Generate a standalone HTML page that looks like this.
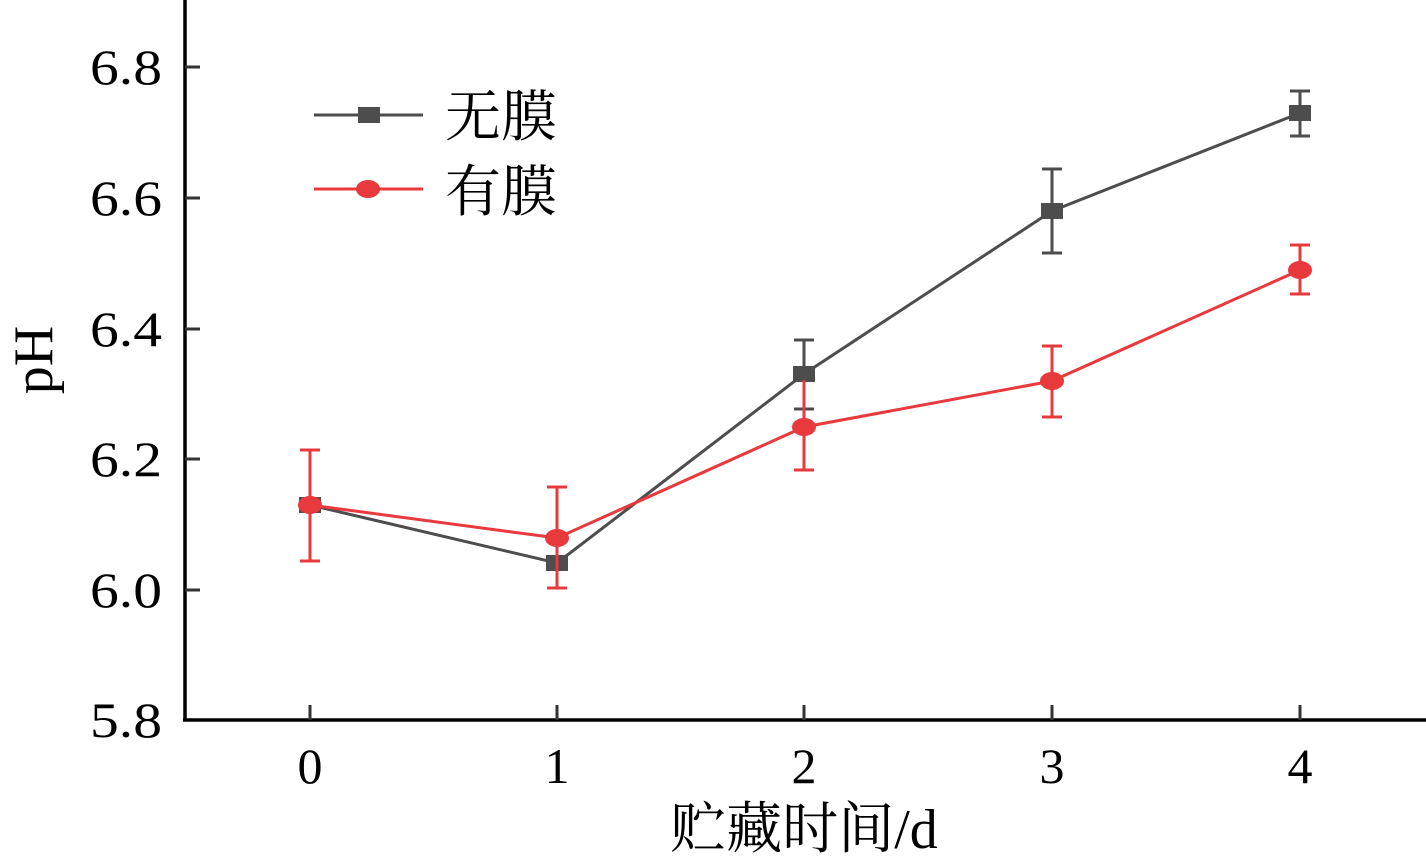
<!DOCTYPE html>
<html><head><meta charset="utf-8"><style>html,body{margin:0;padding:0;background:#fff}svg{display:block}</style></head><body>
<svg width="1426" height="857" xmlns="http://www.w3.org/2000/svg" font-family="'Liberation Serif','Noto Serif CJK SC',serif">
<g stroke="#000" stroke-width="3.5" fill="none">
<line x1="185" y1="0" x2="185" y2="721"/>
<line x1="183" y1="720" x2="1426" y2="720"/>
</g>
<g stroke="#333" stroke-width="3">
<line x1="185" y1="67" x2="200" y2="67"/><line x1="185" y1="198" x2="200" y2="198"/><line x1="185" y1="329" x2="200" y2="329"/><line x1="185" y1="459" x2="200" y2="459"/><line x1="185" y1="590" x2="200" y2="590"/>
<line x1="310" y1="705" x2="310" y2="720"/><line x1="557" y1="705" x2="557" y2="720"/><line x1="804" y1="705" x2="804" y2="720"/><line x1="1052" y1="705" x2="1052" y2="720"/><line x1="1300" y1="705" x2="1300" y2="720"/>
</g>
<g font-size="50" text-anchor="end" fill="#000">
<text x="162" y="84" textLength="72" lengthAdjust="spacingAndGlyphs">6.8</text><text x="162" y="215" textLength="72" lengthAdjust="spacingAndGlyphs">6.6</text><text x="162" y="346" textLength="72" lengthAdjust="spacingAndGlyphs">6.4</text><text x="162" y="476" textLength="72" lengthAdjust="spacingAndGlyphs">6.2</text><text x="162" y="607" textLength="72" lengthAdjust="spacingAndGlyphs">6.0</text><text x="162" y="737" textLength="72" lengthAdjust="spacingAndGlyphs">5.8</text>
</g>
<g font-size="50" text-anchor="middle" fill="#000">
<text x="310" y="783">0</text><text x="557" y="783">1</text><text x="804" y="783">2</text><text x="1052" y="783">3</text><text x="1300" y="783">4</text>
<text x="804" y="848" font-size="56">贮藏时间/d</text>
<text transform="translate(52,360) rotate(-90)" font-size="56">pH</text>
</g>
<g stroke="#4d4d4d" stroke-width="3" fill="none">
<polyline points="310,505 557,563 804,374 1052,211 1300,113"/>
<path d="M1052,169V253M1042,169H1062M1042,253H1062 M1300,91V136M1290,91H1310M1290,136H1310 M804,340V409M794,340H814M794,409H814 M557,551V588M547,588H567"/>
</g>
<g fill="#4d4d4d">
<rect x="299" y="497" width="22" height="16"/><rect x="546" y="555" width="22" height="16"/><rect x="793" y="366" width="22" height="16"/><rect x="1041" y="203" width="22" height="16"/><rect x="1289" y="105" width="22" height="16"/>
</g>
<g stroke="#e8393c" stroke-width="3" fill="none">
<polyline points="310,505 557,538 804,427 1052,381 1300,270"/>
<path d="M310,450V561M300,450H320M300,561H320 M557,487V588M547,487H567M547,588H567 M804,380V470M794,470H814 M1052,346V417M1042,346H1062M1042,417H1062 M1300,245V294M1290,245H1310M1290,294H1310"/>
</g>
<g fill="#e8393c">
<ellipse cx="310" cy="505" rx="12" ry="9"/><ellipse cx="557" cy="538" rx="12" ry="9"/><ellipse cx="804" cy="427" rx="12" ry="9"/><ellipse cx="1052" cy="381" rx="12" ry="9"/><ellipse cx="1300" cy="270" rx="12" ry="9"/>
</g>
<line x1="314" y1="115" x2="423" y2="115" stroke="#4d4d4d" stroke-width="3"/>
<rect x="358" y="107" width="22" height="16" fill="#4d4d4d"/>
<line x1="314" y1="189" x2="423" y2="189" stroke="#e8393c" stroke-width="3"/>
<ellipse cx="368" cy="189" rx="12" ry="9" fill="#e8393c"/>
<g font-size="56" fill="#000"><text x="445" y="136">无膜</text><text x="445" y="211">有膜</text></g>
</svg>
</body></html>
